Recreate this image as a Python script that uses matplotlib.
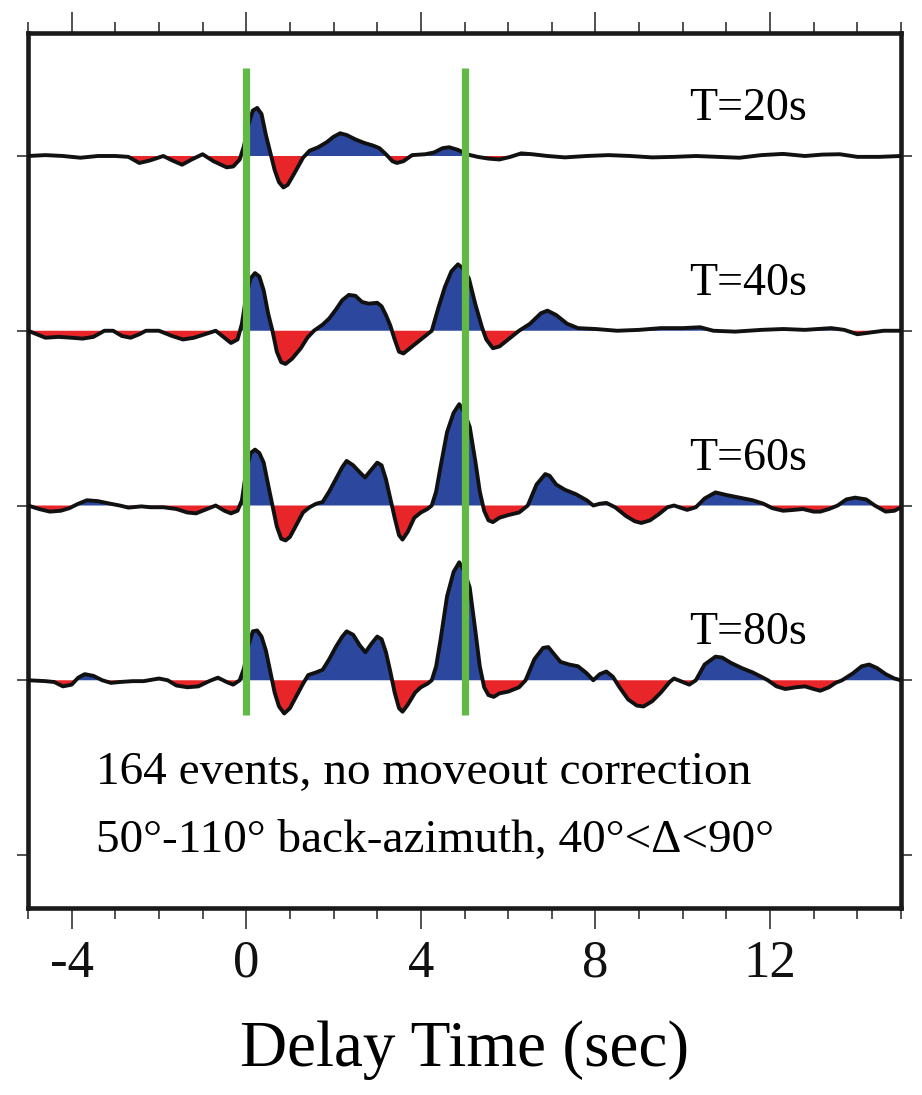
import numpy as np
import matplotlib
matplotlib.use("Agg")
import matplotlib.pyplot as plt
from matplotlib.ticker import MultipleLocator, FixedLocator

plt.rcParams['font.family'] = ['Liberation Serif', 'DejaVu Serif']
plt.rcParams['axes.unicode_minus'] = False

# ---- data (delay time in s, normalized amplitude; 1 unit = trace spacing) ----
labels = ["T=20s", "T=40s", "T=60s", "T=80s"]
offsets = [1, 2, 3, 4]

t20 = [-5.0, -4.6, -4.2, -3.8, -3.4, -3.0, -2.7, -2.45, -2.2, -1.9, -1.7, -1.47, -1.25, -1.0,
       -0.75, -0.45, -0.3, -0.15, -0.05, 0.05, 0.15, 0.25, 0.35, 0.45, 0.55, 0.65, 0.75, 0.85,
       0.95, 1.1, 1.3, 1.45, 1.65, 1.85, 2.0, 2.15, 2.3, 2.5, 2.7, 2.9, 3.05, 3.2, 3.35, 3.45,
       3.6, 3.8, 4.1, 4.3, 4.5, 4.65, 4.85, 5.05, 5.3, 5.55, 5.8, 6.05, 6.3, 6.55, 6.9, 7.3,
       7.8, 8.3, 8.8, 9.3, 9.8, 10.3, 10.8, 11.3, 11.8, 12.3, 12.8, 13.2, 13.6, 14.0, 14.5, 15.0]
a20 = [0.0, 0.005, 0.0, -0.01, 0.0, 0.0, -0.005, -0.04, -0.025, 0.0, -0.025, -0.05, -0.02, 0.01,
       -0.03, -0.065, -0.06, -0.02, 0.06, 0.18, 0.26, 0.275, 0.24, 0.12, 0.02, -0.08, -0.15, -0.18,
       -0.165, -0.1, -0.01, 0.03, 0.05, 0.08, 0.11, 0.13, 0.12, 0.095, 0.075, 0.06, 0.045, 0.01, -0.03, -0.04,
       -0.03, 0.005, 0.01, 0.02, 0.045, 0.05, 0.035, 0.01, -0.005, -0.015, -0.02, -0.005, 0.015, 0.01, 0.0, -0.008,
       0.0, 0.005, 0.0, -0.008, -0.005, 0.0, -0.005, -0.01, 0.005, 0.012, 0.0, 0.008, 0.01, -0.005, -0.005, 0.0]

t40 = [-5.0, -4.8, -4.6, -4.3, -4.0, -3.75, -3.5, -3.25, -3.05, -2.85, -2.65, -2.45, -2.3, -2.0,
       -1.7, -1.45, -1.2, -0.95, -0.7, -0.5, -0.35, -0.2, -0.1, 0.0, 0.1, 0.2, 0.3, 0.4, 0.5, 0.6,
       0.7, 0.8, 0.9, 1.05, 1.25, 1.4, 1.55, 1.75, 1.9, 2.05, 2.2, 2.35, 2.5, 2.65, 2.8, 3.0, 3.1,
       3.2, 3.3, 3.4, 3.5, 3.6, 3.75, 3.95, 4.1, 4.25, 4.4, 4.55, 4.7, 4.85, 4.95, 5.1, 5.25, 5.4,
       5.5, 5.65, 5.8, 6.0, 6.25, 6.5, 6.75, 6.9, 7.1, 7.35, 7.6, 8.0, 8.5, 9.0, 9.5, 10.0, 10.4,
       10.7, 11.2, 11.8, 12.3, 12.8, 13.4, 13.7, 14.0, 14.3, 14.6, 15.0]
a40 = [0.0, -0.02, -0.04, -0.035, -0.04, -0.045, -0.035, 0.0, 0.0, -0.03, -0.04, -0.02, 0.0, 0.0,
       -0.03, -0.05, -0.04, -0.02, 0.0, -0.04, -0.07, -0.05, 0.04, 0.2, 0.3, 0.33, 0.31, 0.23, 0.1, 0.0,
       -0.12, -0.18, -0.19, -0.16, -0.1, -0.04, 0.0, 0.035, 0.07, 0.12, 0.175, 0.205, 0.2, 0.165, 0.155, 0.16, 0.14,
       0.09, 0.03, -0.05, -0.12, -0.13, -0.1, -0.06, -0.03, 0.0, 0.13, 0.25, 0.34, 0.38, 0.36, 0.3, 0.15, 0.02,
       -0.05, -0.1, -0.09, -0.05, 0.0, 0.04, 0.1, 0.115, 0.09, 0.04, 0.015, 0.01, 0.0, 0.005, 0.015, 0.015, 0.02,
       0.0, -0.005, 0.005, 0.01, 0.005, 0.015, 0.005, -0.02, -0.01, 0.0, 0.0]

t60 = [-5.0, -4.75, -4.5, -4.25, -4.05, -3.85, -3.65, -3.4, -3.15, -2.9, -2.7, -2.4, -2.2, -1.9,
       -1.6, -1.35, -1.15, -0.9, -0.7, -0.5, -0.35, -0.2, -0.1, 0.0, 0.1, 0.2, 0.3, 0.4, 0.5, 0.6,
       0.7, 0.8, 0.9, 1.0, 1.15, 1.3, 1.45, 1.6, 1.75, 1.9, 2.05, 2.2, 2.3, 2.45, 2.6, 2.72, 2.85,
       3.0, 3.1, 3.2, 3.3, 3.4, 3.5, 3.58, 3.7, 3.85, 4.0, 4.15, 4.25, 4.35, 4.45, 4.6, 4.75, 4.88,
       5.0, 5.12, 5.25, 5.35, 5.45, 5.55, 5.65, 5.8, 6.0, 6.25, 6.45, 6.65, 6.85, 6.95, 7.1, 7.3,
       7.55, 7.8, 7.95, 8.1, 8.25, 8.45, 8.7, 8.9, 9.05, 9.25, 9.45, 9.65, 9.8, 10.1, 10.3, 10.5,
       10.75, 11.0, 11.3, 11.6, 11.85, 12.05, 12.3, 12.55, 12.75, 13.0, 13.15, 13.35, 13.55, 13.75,
       13.95, 14.2, 14.4, 14.65, 14.85, 15.0]
a60 = [0.0, -0.02, -0.035, -0.03, -0.015, 0.01, 0.03, 0.025, 0.012, 0.0, -0.012, -0.005, -0.01, -0.01,
       -0.02, -0.04, -0.045, -0.02, 0.0, -0.03, -0.045, -0.03, 0.03, 0.2, 0.3, 0.32, 0.3, 0.245, 0.12, 0.0,
       -0.12, -0.19, -0.2, -0.18, -0.11, -0.04, -0.01, 0.01, 0.02, 0.08, 0.15, 0.22, 0.255, 0.23, 0.19, 0.16, 0.2,
       0.245, 0.23, 0.15, 0.04, -0.07, -0.17, -0.195, -0.15, -0.07, -0.04, -0.02, 0.0, 0.08, 0.22, 0.42, 0.53, 0.58,
       0.53, 0.45, 0.25, 0.08, -0.03, -0.085, -0.095, -0.07, -0.055, -0.04, 0.0, 0.12, 0.18, 0.17, 0.12, 0.09,
       0.065, 0.03, 0.0, 0.01, 0.015, -0.01, -0.06, -0.09, -0.1, -0.085, -0.05, -0.01, 0.0, -0.025, -0.01, 0.04,
       0.075, 0.06, 0.045, 0.03, 0.01, -0.015, -0.03, -0.025, -0.02, -0.035, -0.035, -0.02, 0.0, 0.035,
       0.045, 0.035, 0.0, -0.035, -0.03, -0.01]

t80 = [-5.0, -4.6, -4.4, -4.2, -4.0, -3.85, -3.7, -3.5, -3.3, -3.1, -2.9, -2.6, -2.35, -2.0, -1.8,
       -1.6, -1.35, -1.1, -0.85, -0.65, -0.45, -0.3, -0.15, -0.05, 0.05, 0.15, 0.25, 0.35, 0.45, 0.55,
       0.65, 0.75, 0.87, 1.0, 1.15, 1.3, 1.42, 1.6, 1.75, 1.9, 2.05, 2.2, 2.3, 2.45, 2.6, 2.73, 2.87,
       3.0, 3.1, 3.2, 3.3, 3.4, 3.5, 3.58, 3.7, 3.87, 4.0, 4.15, 4.25, 4.35, 4.45, 4.6, 4.75, 4.88,
       5.0, 5.12, 5.25, 5.35, 5.45, 5.55, 5.67, 5.8, 6.0, 6.25, 6.4, 6.6, 6.8, 6.92, 7.05, 7.2, 7.4,
       7.6, 7.8, 7.95, 8.1, 8.25, 8.4, 8.55, 8.75, 8.95, 9.1, 9.3, 9.5, 9.7, 9.8, 10.0, 10.15, 10.3,
       10.5, 10.75, 10.9, 11.1, 11.35, 11.6, 11.8, 11.95, 12.15, 12.35, 12.6, 12.8, 13.0, 13.15, 13.35,
       13.5, 13.65, 13.9, 14.1, 14.27, 14.45, 14.65, 14.85, 15.0]
a80 = [0.0, -0.005, -0.01, -0.035, -0.025, 0.015, 0.035, 0.025, 0.0, -0.015, -0.01, -0.005, -0.005, 0.01, 0.0,
       -0.03, -0.04, -0.035, -0.005, 0.015, -0.01, -0.025, 0.0, 0.07, 0.2, 0.28, 0.285, 0.25, 0.17, 0.05,
       -0.07, -0.15, -0.19, -0.16, -0.09, -0.02, 0.03, 0.045, 0.06, 0.12, 0.19, 0.25, 0.28, 0.26, 0.2, 0.16, 0.21,
       0.25, 0.235, 0.16, 0.05, -0.07, -0.16, -0.18, -0.14, -0.07, -0.04, -0.02, 0.0, 0.08, 0.23, 0.48, 0.62, 0.675,
       0.62, 0.53, 0.28, 0.08, -0.04, -0.085, -0.095, -0.075, -0.065, -0.04, 0.0, 0.12, 0.185, 0.19, 0.15, 0.105, 0.09,
       0.08, 0.04, 0.0, 0.035, 0.05, 0.02, -0.04, -0.11, -0.145, -0.15, -0.12, -0.07, -0.01, 0.01, -0.01, -0.025, 0.0,
       0.09, 0.135, 0.13, 0.1, 0.07, 0.045, 0.02, 0.0, -0.035, -0.05, -0.04, -0.035, -0.05, -0.06, -0.04,
       -0.015, 0.0, 0.04, 0.08, 0.09, 0.07, 0.035, 0.01, 0.0]

times = [t20, t40, t60, t80]
amps = [a20, a40, a60, a80]

green_times = [0.0, 5.0]
note_lines = ["164 events, no moveout correction",
              "50°-110° back-azimuth, 40°<Δ<90°"]

# ---- style ----
BLUE = '#2c489e'
RED = '#e8262a'
GREEN = '#63b946'

fig = plt.figure(figsize=(9.22, 10.95), dpi=100)
ax = fig.add_axes([0.0304, 0.1708, 0.9468, 0.7991])

for t, a, off, lab in zip(times, amps, offsets, labels):
    t = np.asarray(t, float)
    a = np.asarray(a, float)
    base = np.full_like(t, off)
    y = off - a
    ax.fill_between(t, base, y, where=a >= 0, interpolate=True, color=BLUE, lw=0, zorder=2)
    ax.fill_between(t, base, y, where=a <= 0, interpolate=True, color=RED, lw=0, zorder=2)
    ax.plot(t, y, color='#111111', lw=2.8, zorder=3, solid_joinstyle='round')
    ax.text(12.85, off - 0.27, lab, ha='right', va='center', fontsize=33, zorder=5)

for gx in green_times:
    ax.plot([gx, gx], [0.496, 4.2], color=GREEN, lw=5.2, zorder=4, solid_capstyle='butt')

ax.text(-3.45, 4.53, note_lines[0], ha='left', va='center', fontsize=34)
ax.text(-3.45, 4.92, note_lines[1], ha='left', va='center', fontsize=34)

ax.set_xlim(-5, 15)
ax.set_ylim(5.303, 0.296)

ax.xaxis.set_major_locator(FixedLocator([-4, 0, 4, 8, 12]))
ax.xaxis.set_minor_locator(MultipleLocator(1))
ax.set_xticklabels(['-4', '0', '4', '8', '12'])
ax.tick_params(axis='x', which='both', top=True, bottom=True, direction='out', width=1.1,
               labelsize=38, pad=8, colors='#222222', labelcolor='#111111')
ax.tick_params(axis='x', which='major', length=15)
ax.tick_params(axis='x', which='minor', length=8)

ax.yaxis.set_major_locator(FixedLocator([1, 2, 3, 4, 5]))
ax.yaxis.set_minor_locator(FixedLocator([]))
ax.tick_params(axis='y', which='major', left=True, right=True, direction='out', length=8,
               width=1.1, labelleft=False, labelright=False, colors='#222222')

for sp in ax.spines.values():
    sp.set_linewidth(3.3)
    sp.set_color('#1a1a1a')

ax.set_xlabel('Delay Time (sec)', fontsize=47)
ax.xaxis.label.set_va('center')
ax.xaxis.set_label_coords(0.5, -0.162)

fig.savefig('out.png', dpi=100)
